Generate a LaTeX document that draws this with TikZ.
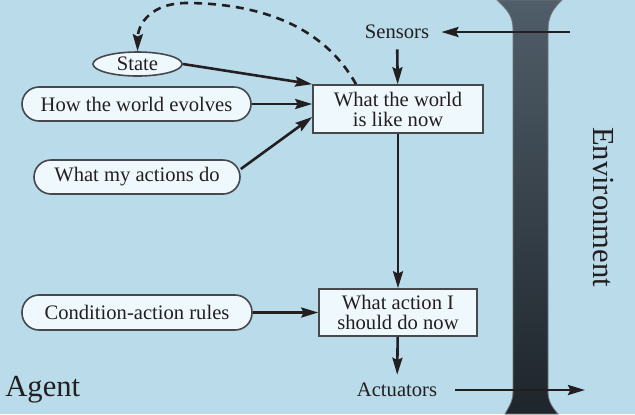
\documentclass[tikz,border=0pt]{standalone}
\usepackage{fontspec}
\setmainfont{Liberation Serif}
\usepackage{tikz}
\usetikzlibrary{arrows.meta}
\usetikzlibrary{shapes.geometric}
\definecolor{sky}{RGB}{185,219,234}
\definecolor{paper}{RGB}{239,248,253}
\definecolor{ink}{RGB}{35,31,32}
\definecolor{rim}{RGB}{70,72,76}
\definecolor{postTop}{RGB}{80,94,105}
\definecolor{postBot}{RGB}{30,37,43}

\begin{document}
\begin{tikzpicture}[x=0.5pt,y=-0.5pt,font=\fontsize{10.3}{10}\selectfont,text=ink,
  every node/.style={inner sep=0pt},
  box/.style={draw=rim,fill=paper,line width=0.8pt,align=center},
  pill/.style={box,rounded corners=8.5pt,minimum height=17pt},
  arr/.style={draw=ink,line width=1.3pt,-{Stealth[length=8.5pt,width=5pt,inset=1.2pt]}}]

\useasboundingbox (0,0) rectangle (635,414);
\fill[sky] (0,0) rectangle (635,414);

% environment post
\shade[top color=postTop,bottom color=postBot,draw=gray!70!postTop,line width=0.4pt]
  (497,0) .. controls (507,10) and (513,15) .. (513,30) -- (513,392)
  .. controls (513,402) and (508,408) .. (505,414) -- (558,414)
  .. controls (553,408) and (548,402) .. (548,392) -- (548,30)
  .. controls (548,15) and (554,8) .. (562,0) -- cycle;

\path (398,109) node[box,minimum width=85pt,minimum height=24pt](world){What the world\\is like now}
      (398,312.5) node[box,minimum width=79pt,minimum height=23.5pt](action){What action I\\should do now};
\path (137.5,64) node[box,ellipse,minimum width=44.5pt,minimum height=12pt](state){State}
      (136.5,104) node[pill,minimum width=114.5pt](evolves){How the world evolves}
      (137,177) node[pill,minimum width=103pt](actions){What my actions do}
      (137,312.5) node[pill,minimum width=115pt,minimum height=17.5pt](rules){Condition-action rules};
\path (397,32) node[inner xsep=6pt,inner ysep=5pt](sensors){Sensors}
      (397,390) node[inner xsep=9pt,inner ysep=4pt](actuators){Actuators}
      (570,32) coordinate(envin)
      (585,390) coordinate(envout);
\path (5,390) node[anchor=west,font=\fontsize{15.3}{18}\selectfont](agent){Agent}
      (603,207) node[rotate=-90,font=\fontsize{15.3}{18}\selectfont](env){Environment};

\draw[arr] (envin) -- (sensors);
\draw[arr] (sensors) -- (world);
\draw[arr] (world) -- (action);
\draw[arr] (action) -- (actuators);
\draw[arr] (actuators) -- (envout);
\draw[arr] (state.east) -- (world.north west);
\draw[arr] (evolves) -- (evolves -| world.west);
\draw[arr] ([yshift=4pt]actions.east) -- ([yshift=-4pt]world.west);
\draw[arr] (rules) -- (rules -| action.west);
\draw[arr,dash pattern=on 4pt off 3pt] ([xshift=-21pt]world.north)
  .. controls (320,20) and (250,4) .. (190,3)
  .. controls (150,2) and (138,25) .. (state.north);
\end{tikzpicture}
\end{document}
